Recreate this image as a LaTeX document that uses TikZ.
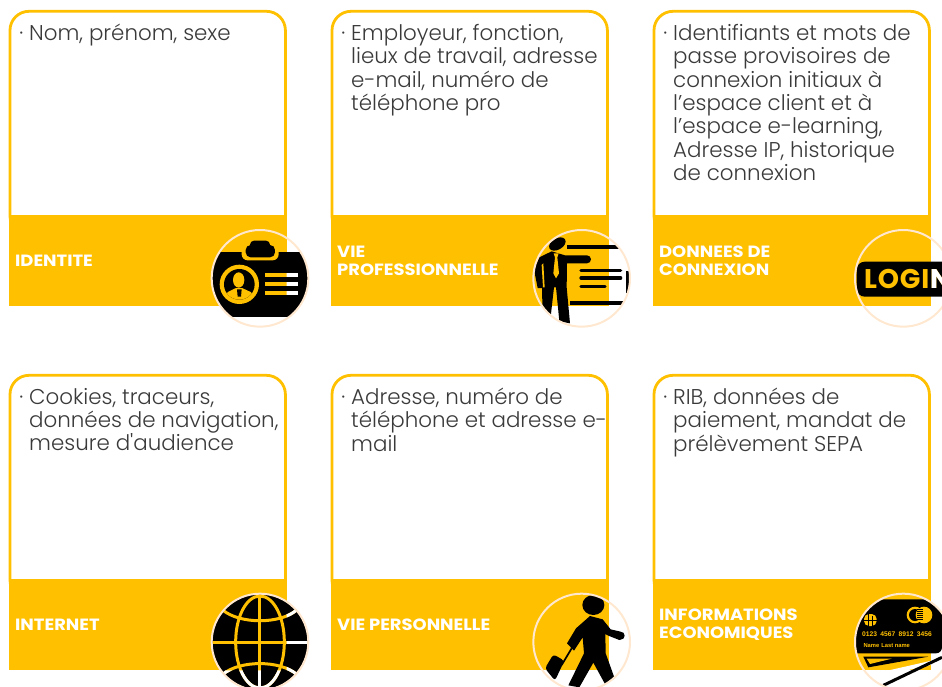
\documentclass[tikz,border=0pt]{standalone}
\usepackage{fontspec}
\newfontfamily\bodyfont{Poppins Light}
\newfontfamily\labelfont[FakeStretch=1.1]{Poppins Bold}
\newfontfamily\iconfont{Poppins Bold}
\newfontfamily\cardfont{Liberation Sans Bold}
\definecolor{cardy}{HTML}{FFC000}
\definecolor{ringc}{HTML}{FFE8CF}
\definecolor{bodyc}{HTML}{3A3A3A}
\tikzset{
  panel/.style={draw=cardy,line width=2.8pt,fill=white,rounded corners=19pt},
  band/.style={fill=cardy},
  bodytext/.style={anchor=north west,align=left,inner sep=0pt,text=bodyc,font=\bodyfont\fontsize{21.4}{23.4}\selectfont},
  labeltext/.style={anchor=west,align=left,inner sep=0pt,text=white,font=\labelfont\fontsize{16.3}{18}\selectfont},
  ring/.style={draw=ringc,line width=2pt},
  zoomed/.style={x=0.33333pt,y=-0.33333pt},
  holeline/.style={draw=hc,line cap=butt}
}
% a part of an icon that is a hole: band colour over the band, white beyond it
\newcommand\holes[3]{%
  \colorlet{hc}{cardy}#3%
  \begin{scope}
    \clip (#1,-100) rectangle (1300,600) (-100,#2) rectangle (1300,600);
    \colorlet{hc}{white}#3%
  \end{scope}}
\newcommand\panelcard[2]{%
  \begin{scope}[shift={(#1,#2)}]
    \draw[panel] (10,235) rectangle (285.4,11.3);
    \fill[band] (8.6,215) rectangle (286.8,306.4);
  \end{scope}}
\begin{document}
\begin{tikzpicture}[x=1pt,y=-1pt]
\useasboundingbox (0,0) rectangle (942,686);
\clip (0,0) rectangle (942,686);
\panelcard{0}{0}\panelcard{322}{0}\panelcard{644}{0}
\panelcard{0}{364}\panelcard{322}{364}\panelcard{644}{364}

\node[bodytext] (t1) at (29,23.8) {\llap{·\hspace{6pt}}Nom, prénom, sexe};
\node[bodytext] (t2) at (351,23.8) {\llap{·\hspace{6pt}}Employeur, fonction,\\lieux de travail, adresse\\e-mail, numéro de\\téléphone pro};
\node[bodytext] (t3) at (673,23.8) {\llap{·\hspace{6pt}}Identifiants et mots de\\passe provisoires de\\connexion initiaux à\\l’espace client et à\\l’espace e-learning,\\Adresse IP, historique\\de connexion};
\node[bodytext] (t4) at (29,387.8) {\llap{·\hspace{6pt}}Cookies, traceurs,\\données de navigation,\\mesure d'audience};
\node[bodytext] (t5) at (351,387.8) {\llap{·\hspace{6pt}}Adresse, numéro de\\téléphone et adresse e-\\mail};
\node[bodytext] (t6) at (673,387.8) {\llap{·\hspace{6pt}}RIB, données de\\paiement, mandat de\\prélèvement SEPA};

\node[labeltext] (l1) at (15,260.6) {IDENTITE};
\node[labeltext] (l2) at (337,260.8) {VIE\\PROFESSIONNELLE};
\node[labeltext] (l3) at (659,260.8) {DONNEES DE\\CONNEXION};
\node[labeltext] (l4) at (15,624.6) {INTERNET};
\node[labeltext] (l5) at (337,624.6) {VIE PERSONNELLE};
\node[labeltext] (l6) at (659,624.8) {INFORMATIONS\\ECONOMIQUES};

% ---------- badge
\begin{scope}[shift={(0,200)},zoomed]
  \begin{scope}
    \clip (780,235) circle[radius=144];
    \fill (620,155) rectangle (940,350);
    \fill[cardy,rounded corners=6pt] (725,120) rectangle (836,181);
    \fill[rounded corners=5pt] (737,135) rectangle (825,172);
    \fill[rounded corners=4pt] (750,122) rectangle (810,150);
    \fill[cardy] (718,253) circle[radius=59];
    \fill (718,253) circle[radius=46];
    \begin{scope}
      \clip (718,253) circle[radius=46];
      \fill[cardy] (716,240) ellipse[x radius=17,y radius=23];
      \fill[cardy] (668,300) .. controls (672,275) and (695,272) .. (708,264) -- (726,264) .. controls (740,272) and (765,275) .. (768,300) -- cycle;
      \fill (711,268) -- (725,268) -- (723,290) -- (713,290) -- cycle;
    \end{scope}
    \holes{860}{320}{
      \fill[hc] (795,220) rectangle (895,232);
      \fill[hc] (795,246) rectangle (895,258);
      \fill[hc] (795,272) rectangle (895,284);
    }
  \end{scope}
  \draw[ring] (780,235) circle[radius=145];
\end{scope}

% ---------- presenter
\begin{scope}[shift={(320,200)},zoomed]
  \begin{scope}
    \clip (785,235) circle[radius=144];
    \draw[line width=4pt] (740,140) -- (900,140);
    \draw[line width=4pt] (750,309) -- (910,309);
    \draw[line width=4pt] (925,214) -- (925,279);
    \draw[line width=3.2pt,line cap=round] (783,211) -- (902,211);
    \draw[line width=3.2pt,line cap=round] (783,234) -- (902,234);
    \draw[line width=3.2pt,line cap=round] (783,259) -- (855,259);
    \fill[rotate around={30:(712,132)}] (712,132) ellipse[x radius=27,y radius=17];
    \fill (658,172) -- (695,154) -- (735,166) -- (801,166) arc[start angle=-90,end angle=90,radius=12] -- (741,190) -- (740,262) -- (750,370) -- (718,364) -- (708,262) -- (702,262) -- (692,350) -- (668,350) -- (666,264) -- (653,264) -- (642,209) -- cycle;
    \fill[cardy] (701,160) -- (716,160) -- (712,172) -- (717,220) -- (708,235) -- (700,220) -- (705,172) -- cycle;
    \fill[cardy] (665,195) -- (670,190) -- (674,262) -- (669,262) -- cycle;
  \end{scope}
  \draw[ring] (785,235) circle[radius=145];
\end{scope}

% ---------- login
\begin{scope}[shift={(640,200)},zoomed]
  \fill[rounded corners=8pt] (650,185) rectangle (940,290);
  \holes{872}{320}{
    \node[anchor=base west,inner sep=0pt,text=hc,font=\iconfont\fontsize{27}{27}\selectfont] (loginword) at (672,265) {\addfontfeature{LetterSpace=3}LOGIN};
  }
  \draw[ring] (790,235) circle[radius=145];
\end{scope}

% ---------- globe
\begin{scope}[shift={(0,566)},zoomed]
  \fill (780,228) circle[radius=143];
  \begin{scope}
    \clip (780,228) circle[radius=143];
    \holes{860}{313}{
      \draw[holeline,line width=3pt] (780,80) -- (780,400);
      \draw[holeline,line width=3pt] (630,230) -- (930,230);
      \draw[holeline,line width=3pt] (780,228) ellipse[x radius=73,y radius=138];
      \draw[holeline,line width=3pt] (668,132) .. controls (720,175) and (840,175) .. (890,132);
      \draw[holeline,line width=3pt] (668,325) .. controls (720,282) and (840,282) .. (890,325);
    }
  \end{scope}
  \draw[ring] (780,228) circle[radius=145];
\end{scope}

% ---------- walker
\begin{scope}[shift={(320,566)},zoomed]
  \fill (820,117) ellipse[x radius=33,y radius=30];
  \fill (810,150) -- (848,160) -- (872,190) -- (902,197) arc[start angle=-90,end angle=90,radius=12] -- (898,222) -- (865,209) -- (856,204) -- (857,262) -- (884,337) -- (855,354) -- (820,290) -- (778,364) -- (745,358) -- (792,262) -- (788,214) -- (762,254) -- (741,232) -- (768,187) -- cycle;
  \draw[line width=1.7pt] (755,247) -- (725,297);
  \fill[rounded corners=3pt] (700,265) -- (733,284) -- (705,344) -- (675,307) -- cycle;
  \draw[ring] (785,228) circle[radius=145];
\end{scope}

% ---------- payment card
\begin{scope}[shift={(640,566)},zoomed]
  \begin{scope}
    \clip (790,228) circle[radius=144];
    \fill[rounded corners=6pt] (630,100) rectangle (906,262);
    \fill[cardy] (825,147) circle[radius=25];
    \fill (825,147) circle[radius=18];
    \fill[cardy] (852,147) circle[radius=25];
    \foreach \yy in {130,136,142,148,154,160} {\fill (830,\yy) rectangle (850,\yy+3);}
    \fill[cardy,rounded corners=5pt] (672,144) rectangle (710,180);
    \draw[line width=1pt] (684,144) -- (684,180) (698,150) -- (698,180) (672,162) -- (710,162);
    \node[anchor=base west,inner sep=0pt,text=cardy,font=\cardfont\fontsize{6.7}{7}\selectfont] (cardnum) at (666,210) {0123\,\,\,4567\,\,\,8912\,\,\,3456};
    \node[anchor=base west,inner sep=0pt,text=cardy,font=\cardfont\fontsize{5.8}{7}\selectfont] (cardname) at (670,244) {Name\,\,Last name};
    \fill (670,272) -- (865,272) -- (685,304) -- cycle;
    \fill[cardy] (680,278) -- (755,278) -- (690,294) -- cycle;
    \fill[white] (660,313) rectangle (950,400);
    \draw[white,line width=4pt] (690,332) -- (875,290);
    \draw[line width=3pt] (730,358) -- (906,274);
  \end{scope}
  \draw[ring] (790,228) circle[radius=145];
\end{scope}
\end{tikzpicture}
\end{document}
